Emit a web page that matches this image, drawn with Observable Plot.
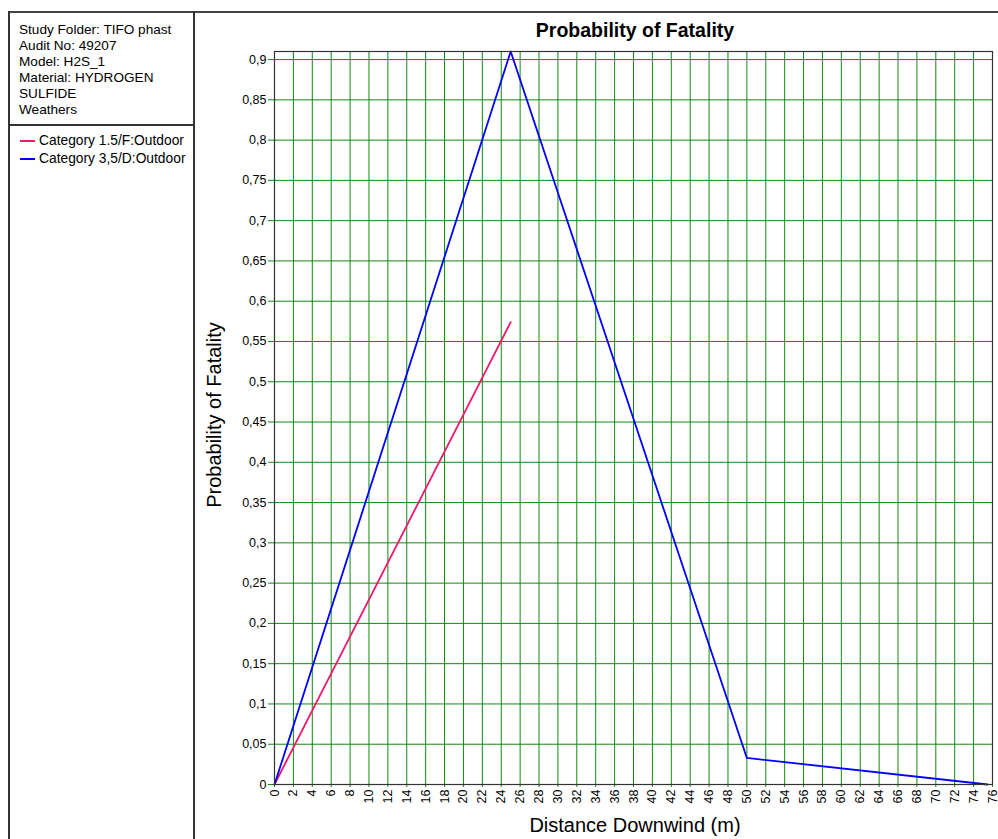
<!DOCTYPE html>
<html>
<head>
<meta charset="utf-8">
<script src="https://cdn.jsdelivr.net/npm/d3@7"></script>
<script src="https://cdn.jsdelivr.net/npm/@observablehq/plot@0.6"></script>
<style>
  html, body { margin: 0; padding: 0; background: #fff; }
  #wrap { position: relative; width: 998px; height: 839px; font-family: "Liberation Sans", Arial, sans-serif; overflow: hidden; }
  #chart { position: absolute; left: 0; top: 0; }
  .abs { position: absolute; white-space: nowrap; color: #000; }
  .leg { left: 20px; }
  .leg span.sw { display: inline-block; width: 15px; height: 2px; vertical-align: middle; margin-right: 4px; }
</style>
</head>
<body>
<div id="wrap">
  <div id="chart"></div>
</div>
<script>
const infoLines = ["Study Folder: TIFO phast", "Audit No: 49207", "Model: H2S_1", "Material: HYDROGEN", "SULFIDE", "Weathers"];
const seriesNames = ["Category 1.5/F:Outdoor", "Category 3,5/D:Outdoor"];
const seriesColors = ["#f0186c", "#0000ff"];
const cat15F_x = [0, 25];
const cat15F_y = [0, 0.574];
const cat35D_x = [0, 25, 50, 75.5];
const cat35D_y = [0, 0.91, 0.033, 0];
const xTicks = d3.range(0, 77, 2);
const yTicks = d3.range(0, 19).map(i => +(i * 0.05).toFixed(2));
const titleText = "Probability of Fatality";
const yLabel = "Probability of Fatality";
const xLabel = "Distance Downwind (m)";

const data = [
  ...cat15F_x.map((x, i) => ({x, y: cat15F_y[i], s: seriesNames[0]})),
  ...cat35D_x.map((x, i) => ({x, y: cat35D_y[i], s: seriesNames[1]}))
];
const fmt = d => String(d).replace(".", ",");
const grid = "#0f8a0f";

const plot = Plot.plot({
  width: 998,
  height: 839,
  marginLeft: 274,
  marginRight: 6,
  marginTop: 51,
  marginBottom: 55,
  style: {fontFamily: "'Liberation Sans', Arial, sans-serif", fontSize: "12px", color: "#000", background: "transparent"},
  x: {domain: [0, 76]},
  y: {domain: [0, 0.91]},
  color: {domain: seriesNames, range: seriesColors},
  marks: [
    Plot.ruleX(xTicks, {stroke: grid, strokeWidth: 1}),
    Plot.ruleY(yTicks, {stroke: grid, strokeWidth: 1}),
    Plot.axisX({ticks: xTicks, tickFormat: d => String(d), tickRotate: -90, tickSize: 3, tickPadding: 2, stroke: grid, label: null, fontSize: 12.5}),
    Plot.axisY({ticks: yTicks, tickFormat: fmt, tickSize: 6, tickPadding: 2, stroke: grid, label: null, fontSize: 12.5}),
    Plot.line(data, {x: "x", y: "y", z: "s", stroke: "s", strokeWidth: 1.8}),
    Plot.frame({stroke: "#333", strokeWidth: 1.2})
  ]
});
document.getElementById("chart").appendChild(plot);

const wrap = document.getElementById("wrap");
function addDiv(cls, css, html) {
  const d = document.createElement("div");
  d.className = "abs " + cls;
  Object.assign(d.style, css);
  d.innerHTML = html;
  wrap.appendChild(d);
  return d;
}
// frames of the left panel
addDiv("", {left: "8px", top: "11px", width: "990px", height: "0", borderTop: "2px solid #444"}, "");
addDiv("", {left: "8px", top: "11px", width: "0", height: "840px", borderLeft: "2px solid #333"}, "");
addDiv("", {left: "193px", top: "11px", width: "0", height: "840px", borderLeft: "2px solid #333"}, "");
addDiv("", {left: "8px", top: "124px", width: "186px", height: "0", borderTop: "2px solid #333"}, "");

addDiv("", {left: "19px", top: "22px", fontSize: "13.6px", lineHeight: "16px"}, infoLines.join("<br>"));
seriesNames.forEach((n, i) => {
  addDiv("leg", {top: (133 + i * 18) + "px", fontSize: "13.8px"},
    `<span class="sw" style="background:${seriesColors[i]}"></span>${n}`);
});
addDiv("", {left: "635px", top: "19px", transform: "translateX(-50%)", fontSize: "19.5px", fontWeight: "bold"}, titleText);
addDiv("", {left: "635px", top: "814px", transform: "translateX(-50%)", fontSize: "20px"}, xLabel);
addDiv("", {left: "214px", top: "415px", transform: "translate(-50%,-50%) rotate(-90deg)", fontSize: "20px"}, yLabel);
</script>
</body>
</html>
